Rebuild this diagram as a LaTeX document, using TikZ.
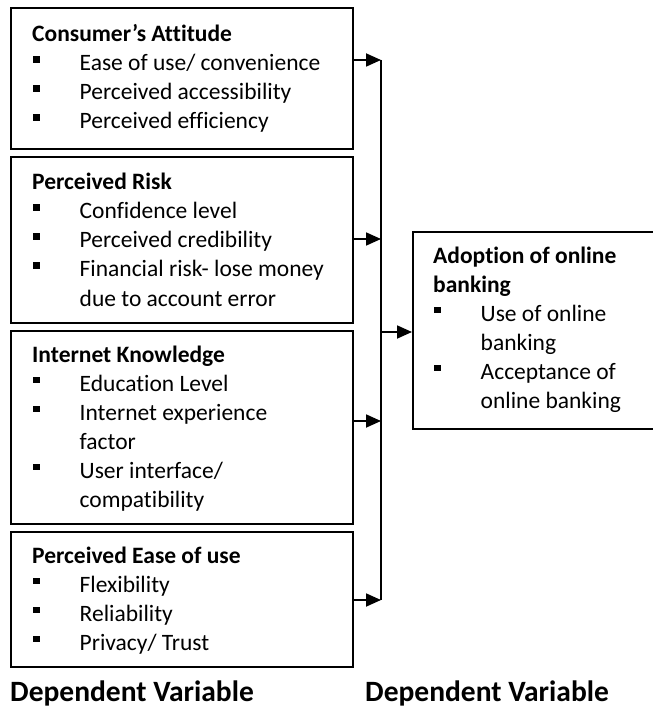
\documentclass[tikz,border=0pt]{standalone}
\usepackage{fontspec}
\setmainfont{Carlito}[Ligatures={NoCommon}]
\usetikzlibrary{arrows.meta}
\newcommand\bitem[1]{\hbox{\kern1pt\raise8pt\hbox{\vrule width6.5pt height6.5pt depth0pt}\kern40pt #1}}
\newcommand\bcont[1]{\hbox{\kern47.5pt #1}}
\newcommand\btitle[1]{\hbox{\bfseries #1}}
\newcommand\blist[1]{\vtop{\baselineskip=29pt\lineskiplimit=-100pt\lineskip=0pt #1}}
\begin{document}
\begin{tikzpicture}[x=1pt,y=-1pt,
  boxn/.style={draw=black, line width=1.8pt, anchor=north west, inner sep=0pt},
  txt/.style={anchor=base west, inner sep=0pt, font=\fontsize{23.5}{29}\selectfont},
  lab/.style={anchor=base west, inner sep=0pt, font=\fontsize{29.5}{34}\selectfont\bfseries},
  arr/.style={line width=1.8pt, -{Triangle[length=15pt,width=13pt]}},
  bus/.style={line width=1.6pt}]
\useasboundingbox (0,0) rectangle (652,708);
% boxes
\node[boxn, minimum width=342pt, minimum height=141pt] (b1) at (10,7) {};
\node[boxn, minimum width=342pt, minimum height=166pt] (b2) at (10,156) {};
\node[boxn, minimum width=342pt, minimum height=193pt] (b3) at (10,330) {};
\node[boxn, minimum width=342pt, minimum height=135pt] (b4) at (10,531) {};
\node[boxn, minimum width=250pt, minimum height=197pt] (b5) at (412,231) {};
% texts
\node[txt] (t1) at (32,42) {\blist{\btitle{Consumer’s Attitude}\bitem{Ease of use/ convenience}\bitem{Perceived accessibility}\bitem{Perceived efficiency}}};
\node[txt] (t2) at (32,190) {\blist{\btitle{Perceived Risk}\bitem{Confidence level}\bitem{Perceived credibility}\bitem{Financial risk- lose money}\bcont{due to account error}}};
\node[txt] (t3) at (32,362) {\blist{\btitle{Internet Knowledge}\bitem{Education Level}\bitem{Internet experience}\bcont{factor}\bitem{User interface/}\bcont{compatibility}}};
\node[txt] (t4) at (32,563) {\blist{\btitle{Perceived Ease of use}\bitem{Flexibility}\bitem{Reliability}\bitem{Privacy/ Trust}}};
\node[txt] (t5) at (433,263) {\blist{\btitle{Adoption of online}\btitle{banking}\bitem{Use of online}\bcont{banking}\bitem{Acceptance of}\bcont{online banking}}};
% connectors
\coordinate (j1) at (381,60);
\coordinate (j2) at (381,239);
\coordinate (j3) at (381,421);
\coordinate (j4) at (381,600);
\coordinate (j5) at (381,332);
\draw[bus] (j1) -- (j4);
\draw[arr] (b1.east |- j1) -- (j1);
\draw[arr] (b2.east |- j2) -- (j2);
\draw[arr] (b3.east |- j3) -- (j3);
\draw[arr] (b4.east |- j4) -- (j4);
\draw[arr] (j5) -- (b5.west |- j5);
% labels
\node[lab] (l1) at (10,701) {Dependent Variable};
\node[lab] (l2) at (365,701) {Dependent Variable};
\end{tikzpicture}
\end{document}
